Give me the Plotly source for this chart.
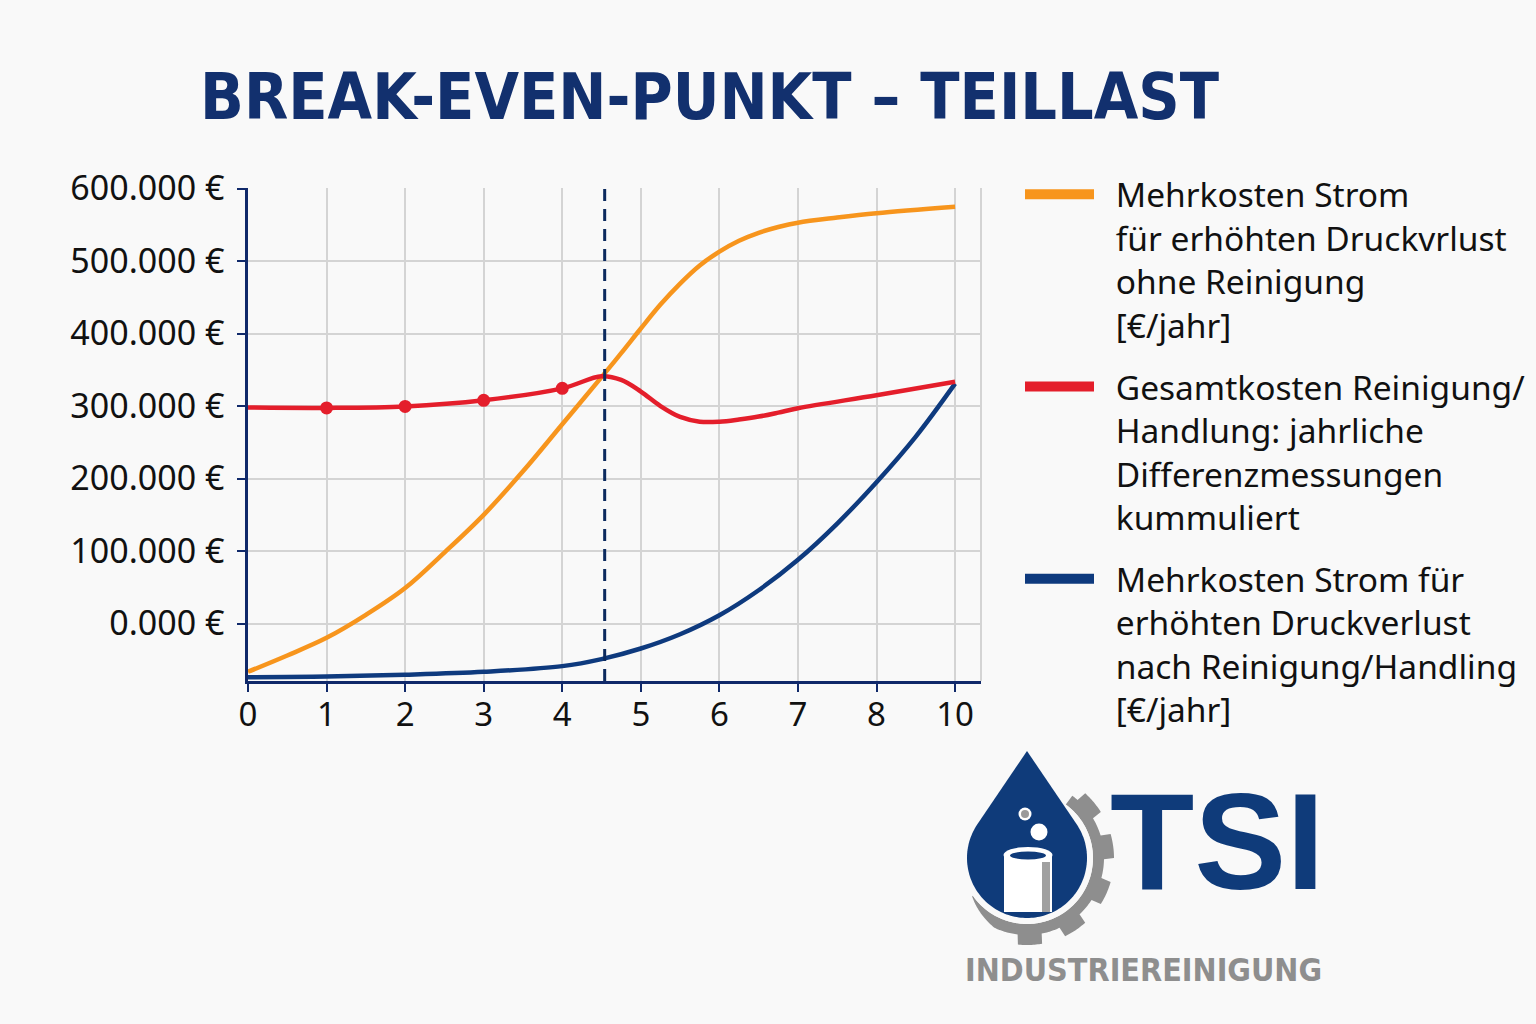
import numpy as np
import plotly.graph_objects as go

# ---------------- data ----------------
x_tickvals = [0, 1, 2, 3, 4, 5, 6, 7, 8, 9]
x_ticktext = ["0", "1", "2", "3", "4", "5", "6", "7", "8", "10"]
y_tickvals = [0, 100000, 200000, 300000, 400000, 500000, 600000]
y_ticktext = ["0.000 €", "100.000 €", "200.000 €", "300.000 €", "400.000 €", "500.000 €", "600.000 €"]

orange_x = [0, 0.5, 1, 1.5, 2, 2.5, 3, 3.5, 4, 4.5, 4.75, 5, 5.25, 5.5, 5.75, 6, 6.25, 6.5, 6.75, 7, 7.5, 8, 9]
orange_y = [-66500, -44000, -19700, 12000, 49000, 98000, 150000, 210000, 275000, 340000, 373000,
            407000, 440000, 469000, 494000, 513000, 528000, 539000, 547000, 553000, 560000, 566000, 575000]

red_x = [0, 1, 2, 3, 4, 4.5, 4.75, 5, 5.25, 5.5, 5.75, 6, 6.25, 6.5, 6.75, 7, 8, 9]
red_y = [298000, 297500, 299500, 308000, 324500, 341000, 336000, 320000, 300000, 285000,
         278500, 278500, 281500, 285500, 291000, 297000, 315000, 333500]
red_marker_x = [1, 2, 3, 4]

blue_x = [0, 1, 2, 3, 4, 4.5, 5, 5.5, 6, 6.5, 7, 7.5, 8, 8.5, 9]
blue_y = [-74000, -73000, -70500, -66500, -58700, -49000, -34400, -14700, 11500, 46000,
          88000, 138000, 195000, 258000, 331000]

break_even_x = 4.54

names = [
    "Mehrkosten Strom<br>für erhöhten Druckvrlust<br>ohne Reinigung<br>[€/jahr]",
    "Gesamtkosten Reinigung/<br>Handlung: jahrliche<br>Differenzmessungen<br>kummuliert",
    "Mehrkosten Strom für<br>erhöhten Druckverlust<br>nach Reinigung/Handling<br>[€/jahr]",
]

ORANGE = "#f7951d"
RED = "#e41e2b"
BLUE = "#0e3a7e"
NAVY = "#10296a"
GRID = "#d4d4d4"
BG = "#f9f9f9"
LOGO_BLUE = "#0f3b7a"
LOGO_GRAY = "#8e8e8e"

red_lookup = dict(zip(red_x, red_y))
red_marker_y = [red_lookup[v] for v in red_marker_x]

# ---------------- figure ----------------
W, H = 1536, 1024
L, R, T, B = 248, 555, 188, 343
PW, PH = W - L - R, H - T - B

fig = go.Figure()
fig.add_trace(go.Scatter(x=orange_x, y=orange_y, mode="lines", showlegend=False,
                         line=dict(color=ORANGE, width=4.5, shape="spline", smoothing=1)))
fig.add_trace(go.Scatter(x=blue_x, y=blue_y, mode="lines", showlegend=False,
                         line=dict(color=BLUE, width=4.5, shape="spline", smoothing=1)))
fig.add_trace(go.Scatter(x=red_x, y=red_y, mode="lines", showlegend=False,
                         line=dict(color=RED, width=4.5, shape="spline", smoothing=1)))
fig.add_trace(go.Scatter(x=red_marker_x, y=red_marker_y, mode="markers", showlegend=False,
                         marker=dict(color=RED, size=13)))

# legend entries (indent each text line a little)
IND = "\u2002"
for i, (nm, col) in enumerate(zip(names, [ORANGE, RED, BLUE])):
    label = "<br>".join(IND + part for part in nm.split("<br>"))
    fig.add_trace(go.Scatter(x=[None], y=[None], mode="lines", name=label, legendgroup=f"g{i}",
                             line=dict(color=col, width=10)))


def px(x):
    return (x - L) / PW


def py(y):
    return (H - B - y) / PH


def path_from(points):
    return "M " + " L ".join(f"{px(a):.5f},{py(b):.5f}" for a, b in points) + " Z"


def ellipse(cx, cy, rx, ry, color):
    return dict(type="circle", xref="paper", yref="paper",
                x0=px(cx - rx), x1=px(cx + rx), y0=py(cy + ry), y1=py(cy - ry),
                fillcolor=color, line=dict(width=0), layer="above")


def circle(cx, cy, r, color):
    return ellipse(cx, cy, r, r, color)


def pol(cx, cy, r, deg):
    t = np.radians(deg)
    return (cx + r * np.sin(t), cy - r * np.cos(t))


shapes = []
# dashed break-even line
shapes.append(dict(type="line", xref="x", yref="y", x0=break_even_x, x1=break_even_x,
                   y0=-79200, y1=600800, line=dict(color="#0c2a5e", width=3, dash="12px,8px")))
# right border gridline
shapes.append(dict(type="line", xref="paper", yref="paper", x0=1, x1=1, y0=0, y1=1,
                   line=dict(color=GRID, width=2), layer="below"))

# ---- logo ----
CX, CY, RD = 1027, 858, 60
teeth = [50, 82, 114, 146, 178]
outer = []
for a in np.arange(36, 236, 1.0):
    if a <= 205:
        r_o = 77
        if any(abs(a - t) <= 8 for t in teeth):
            r_o = 87
    else:
        r_o = 77 - (a - 205) / 30 * 10
    outer.append(pol(CX, CY, r_o, a))
inner = [pol(CX, CY, 66, a) for a in np.arange(235, 35, -1.0)]
shapes.append(dict(type="path", xref="paper", yref="paper", path=path_from(outer + inner),
                   fillcolor=LOGO_GRAY, line=dict(width=0), layer="above"))
shapes.append(circle(CX, CY, 66, BG))
tip = (1027, 751)
d = CY - tip[1]
th = np.degrees(np.arccos(RD / d))
drop_pts = [tip] + [pol(CX, CY, RD, a) for a in np.arange(th, 360 - th + 0.1, 2.0)]
shapes.append(dict(type="path", xref="paper", yref="paper", path=path_from(drop_pts),
                   fillcolor=LOGO_BLUE, line=dict(width=0), layer="above"))
cyl = [(1004, 856), (1052, 856), (1052, 912), (1004, 912)]
shapes.append(dict(type="path", xref="paper", yref="paper", path=path_from(cyl),
                   fillcolor="#ffffff", line=dict(width=0), layer="above"))
shapes.append(dict(type="path", xref="paper", yref="paper",
                   path=path_from([(1042, 862), (1050, 862), (1050, 912), (1042, 912)]),
                   fillcolor="#a0a0a0", line=dict(width=0), layer="above"))
shapes.append(ellipse(1028, 855, 24.5, 8, "#ffffff"))
shapes.append(ellipse(1028, 855.5, 18, 4, LOGO_BLUE))
shapes.append(circle(1025, 814, 6.5, "#ffffff"))
shapes.append(circle(1025, 814, 4, "#9a9a9a"))
shapes.append(circle(1039, 832, 8.5, "#ffffff"))

annotations = [
    dict(text="<b>TSI</b>", xref="paper", yref="paper", x=px(1108), y=py(841),
         xanchor="left", yanchor="middle", showarrow=False,
         font=dict(family="Liberation Sans, Arial, sans-serif", size=138, color=LOGO_BLUE)),
    dict(text="<b>INDUSTRIEREINIGUNG</b>", xref="paper", yref="paper", x=px(1143), y=py(970),
         xanchor="center", yanchor="middle", showarrow=False,
         font=dict(family="DejaVu Sans Condensed, sans-serif", size=32, color=LOGO_GRAY)),
]

fig.update_layout(
    width=W, height=H,
    margin=dict(l=L, r=R, t=T, b=B, pad=0, autoexpand=False),
    paper_bgcolor=BG, plot_bgcolor=BG,
    title=dict(text="<b>BREAK-EVEN-PUNKT – TEILLAST</b>", xref="container", yref="container",
               x=200 / W, xanchor="left", y=1 - 97 / H, yanchor="middle",
               font=dict(family="DejaVu Sans Condensed, sans-serif", size=64, color="#12306e")),
    xaxis=dict(range=[0, 9.33], tickvals=x_tickvals, ticktext=x_ticktext,
               showgrid=True, gridcolor=GRID, gridwidth=2, zeroline=False,
               showline=True, linecolor=NAVY, linewidth=2.5,
               ticks="outside", ticklen=8, tickwidth=2, tickcolor=NAVY,
               ticklabelstandoff=-5,
               tickfont=dict(family="Noto Sans, Open Sans, sans-serif", size=33, color="#111111")),
    yaxis=dict(range=[-79200, 600800], tickvals=y_tickvals, ticktext=y_ticktext,
               showgrid=True, gridcolor=GRID, gridwidth=2, zeroline=False,
               showline=True, linecolor=NAVY, linewidth=2.5,
               ticks="outside", ticklen=8, tickwidth=2, tickcolor=NAVY,
               ticklabelstandoff=6,
               tickfont=dict(family="Noto Sans, Open Sans, sans-serif", size=34, color="#111111")),
    legend=dict(x=px(1020), xanchor="left", y=py(166), yanchor="top",
                bgcolor="rgba(0,0,0,0)", borderwidth=0, valign="top",
                itemwidth=69, tracegroupgap=15, traceorder="grouped", maxheight=900,
                font=dict(family="Noto Sans, Open Sans, sans-serif", size=33.5, color="#111111")),
    shapes=shapes,
    annotations=annotations,
)

fig.write_html("out.html")
